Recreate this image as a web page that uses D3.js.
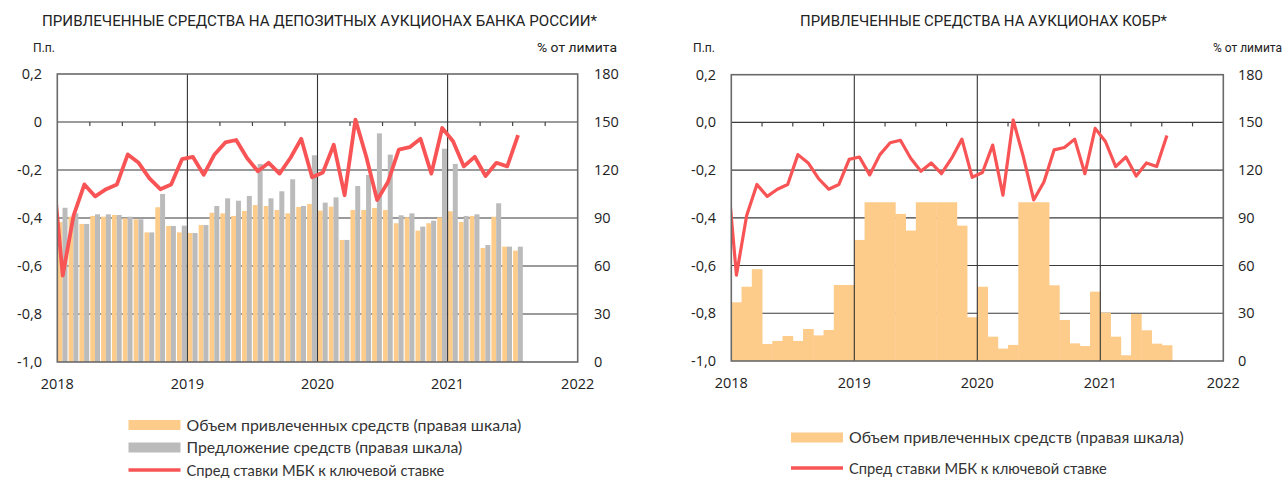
<!DOCTYPE html>
<html><head><meta charset="utf-8">
<script src="https://cdn.jsdelivr.net/npm/d3@7"></script>
<style>
body{margin:0;background:#fff;}
svg{display:block;}
text{fill:#222;}
</style></head>
<body><svg id="chart" width="1288" height="478"></svg>
<script>
// ---------- DATA ----------
const yearLabels = ["2018","2019","2020","2021","2022"];
const leftTicks = [0.2, 0, -0.2, -0.4, -0.6, -0.8, -1.0];
const leftTickLabelsA = ["0,2","0","-0,2","-0,4","-0,6","-0,8","-1,0"];
const leftTickLabelsB = ["0,2","0,0","-0,2","-0,4","-0,6","-0,8","-1,0"];
const rightTicks = [0, 30, 60, 90, 120, 150, 180];
// spread of interbank rate to key rate, p.p., monthly Jan 2018 – Jul 2021 (Dec 2017 first)
const spreadDec2017 = -0.15;
const spread = [-0.64,-0.39,-0.26,-0.31,-0.28,-0.26,-0.135,-0.17,-0.235,-0.28,-0.26,-0.155,
  -0.145,-0.22,-0.135,-0.085,-0.075,-0.15,-0.205,-0.17,-0.215,-0.15,-0.07,-0.23,
  -0.21,-0.095,-0.305,0.01,-0.145,-0.325,-0.25,-0.115,-0.105,-0.07,-0.215,-0.025,
  -0.08,-0.185,-0.145,-0.225,-0.17,-0.185,-0.055];
// deposit auctions, % of limit
const depositVolume = [87.5,90.8,86.3,91.3,90.8,91.9,89.8,89.2,81,96.7,85,81,
  80.6,85.6,93.3,92.9,91.3,94.4,98.1,97.5,95,92.9,96.9,98.8,
  94.6,97.1,76.3,95,95,96.3,95,86.7,90.4,82.1,86.7,90.4,
  94.2,87.5,91.3,71.3,90.8,72.1,69.6];
const depositOffer = [96.4,92.9,86.3,92.3,92.3,91.9,90.8,89.2,81,105,85,85.2,
  80.6,85.6,97.5,102.3,100.8,103.8,123.8,102.3,106.7,114.2,97.5,129.2,
  99.6,102.9,76.3,110,116.9,142.9,129.6,91.7,92.9,84.6,88.3,133.3,
  123.8,91.3,92.3,73.1,99.2,72.1,72.1];
// KOBR auctions, % of limit
const kobrVolume = [36.9,46.7,57.7,10.7,12.6,15.7,12.6,20.1,16.1,19.5,47.8,47.8,
  76.1,99.8,99.8,99.8,92.5,82,99.8,99.8,99.8,99.8,85.1,27.5,
  46.7,15.3,7.8,10.1,99.8,99.8,99.8,47.6,25.8,11.1,9.4,43.6,
  30.4,15.3,3.6,29.6,19.3,10.9,9.9];

const titleLeft = "ПРИВЛЕЧЕННЫЕ СРЕДСТВА НА ДЕПОЗИТНЫХ АУКЦИОНАХ БАНКА РОССИИ*";
const titleRight = "ПРИВЛЕЧЕННЫЕ СРЕДСТВА НА АУКЦИОНАХ КОБР*";
const legVolume = "Объем привлеченных средств (правая шкала)";
const legOffer = "Предложение средств (правая шкала)";
const legSpread = "Спред ставки МБК к ключевой ставке";

// ---------- STYLE ----------
const C_ORANGE = "#FDCB8A", C_GREY = "#BBBBBB", C_RED = "#F85455";
const svg = d3.select("#chart");

function fitText(sel, w){
  const n = sel.node(); const fs = parseFloat(sel.attr("font-size"));
  const cur = n.getComputedTextLength();
  if (cur > 0) sel.attr("font-size", (fs * w / cur).toFixed(2));
  return sel;
}
function squeeze(sel, w){
  return sel.attr("textLength", w).attr("lengthAdjust","spacingAndGlyphs");
}

function panel(o){
  const g = svg.append("g");
  const x = d3.scaleLinear().domain([0,48]).range([o.x0,o.x1]);
  const yL = d3.scaleLinear().domain([-1,0.2]).range([o.y1,o.y0]);
  const yR = d3.scaleLinear().domain([0,180]).range([o.y1,o.y0]);
  const mw = x(1)-x(0);
  const clipId = "clip"+o.id;
  svg.append("clipPath").attr("id",clipId).append("rect")
    .attr("x",o.x0).attr("y",o.y0).attr("width",o.x1-o.x0).attr("height",o.y1-o.y0);

  // horizontal gridlines (behind bars)
  g.append("g").selectAll("line").data(leftTicks.filter(v=>v<0.1 && v>-0.95)).join("line")
    .attr("x1",o.x0).attr("x2",o.x1).attr("y1",d=>yL(d)).attr("y2",d=>yL(d))
    .attr("stroke",o.gridColor).attr("stroke-width",o.gridW);

  // bars
  if (o.paired){
    g.append("g").selectAll("rect").data(o.vol).join("rect")
      .attr("x",(d,i)=>x(i)+mw*0.04).attr("width",mw*0.44)
      .attr("y",d=>yR(d)).attr("height",d=>yR(0)-yR(d)).attr("fill",C_ORANGE);
    g.append("g").selectAll("rect").data(o.offer).join("rect")
      .attr("x",(d,i)=>x(i)+mw*0.48).attr("width",mw*0.46)
      .attr("y",d=>yR(d)).attr("height",d=>yR(0)-yR(d)).attr("fill",C_GREY);
  } else {
    g.append("g").selectAll("rect").data(o.vol).join("rect")
      .attr("x",(d,i)=>x(i)).attr("width",mw+0.4)
      .attr("y",d=>yR(d)).attr("height",d=>yR(0)-yR(d)).attr("fill",C_ORANGE);
  }

  // vertical year lines
  g.append("g").selectAll("line").data([12,24,36]).join("line")
    .attr("x1",d=>x(d)).attr("x2",d=>x(d)).attr("y1",o.y0).attr("y2",o.y1)
    .attr("stroke","#333").attr("stroke-width",1.1);
  // quarter ticks on zero line
  g.append("g").selectAll("line").data(d3.range(3,48,3).filter(m=>m%12)).join("line")
    .attr("x1",d=>x(d)).attr("x2",d=>x(d)).attr("y1",yL(0)).attr("y2",yL(0)+4)
    .attr("stroke","#444").attr("stroke-width",1.2);

  // line
  const pts = [[-0.5, spreadDec2017]].concat(spread.map((v,i)=>[i+0.5,v]));
  g.append("path").datum(pts).attr("clip-path",`url(#${clipId})`)
    .attr("d", d3.line().x(d=>x(d[0])).y(d=>yL(d[1])))
    .attr("fill","none").attr("stroke",C_RED).attr("stroke-width",o.lineW)
    .attr("stroke-linejoin","round");

  // frame
  g.append("rect").attr("x",o.x0).attr("y",o.y0).attr("width",o.x1-o.x0).attr("height",o.y1-o.y0)
    .attr("fill","none").attr("stroke","#6a6a6a").attr("stroke-width",1.6);

  // left axis labels
  const ff = "'Open Sans', sans-serif";
  g.append("g").selectAll("text").data(leftTicks).join("text")
    .attr("x",o.lx).attr("y",d=>yL(d)+5).attr("text-anchor","end")
    .attr("font-family",ff).attr("font-size",14.5).text((d,i)=>o.leftLabels[i]);
  // right axis labels
  g.append("g").selectAll("text").data(rightTicks).join("text")
    .attr("x",o.rx).attr("y",d=>yR(d)+5).attr("text-anchor","start")
    .attr("font-family",ff).attr("font-size",14.5).text(d=>d);
  // x labels
  g.append("g").selectAll("text").data(yearLabels).join("text")
    .attr("x",(d,i)=>x(i*12)).attr("y",o.y1+27).attr("text-anchor","middle")
    .attr("font-family",ff).attr("font-size",14.5).text(d=>d);

  // title & units (condensed look)
  const cf = "Roboto, sans-serif";
  squeeze(g.append("text").attr("x",o.tx).attr("y",25.5).attr("font-family",cf)
    .attr("font-size",14.5).text(o.title), o.tw);
  squeeze(g.append("text").attr("x",o.ppx).attr("y",52).attr("font-family",cf)
    .attr("font-size",13).text("П.п."), 22);
  squeeze(g.append("text").attr("x",o.limx).attr("y",52).attr("font-family",cf)
    .attr("font-size",13).text("% от лимита"), o.limw);

  // legend
  const lf = "Lato, sans-serif";
  o.legend.forEach(L=>{
    if (L.type==="rect"){
      g.append("rect").attr("x",o.lgx).attr("y",L.y-5).attr("width",52).attr("height",10).attr("fill",L.color);
    } else {
      g.append("line").attr("x1",o.lgx).attr("x2",o.lgx+52).attr("y1",L.y).attr("y2",L.y)
        .attr("stroke",C_RED).attr("stroke-width",3.5);
    }
    fitText(g.append("text").attr("x",o.lgx+58).attr("y",L.y+5.5).attr("font-family",lf)
      .attr("font-size",15).style("fill","#333").text(L.text), L.w);
  });
}

panel({id:"L", x0:57.3, x1:577.7, y0:74, y1:362, paired:true,
  vol:depositVolume, offer:depositOffer, gridColor:"#7a7a7a", gridW:1.5, lineW:3.8,
  lx:42, rx:594, leftLabels:leftTickLabelsA,
  title:titleLeft, tx:42, tw:555, ppx:33, limx:537, limw:80,
  lgx:128.5,
  legend:[{type:"rect",color:C_ORANGE,y:425,text:legVolume,w:335},
          {type:"rect",color:C_GREY,y:447.5,text:legOffer,w:276},
          {type:"line",y:470,text:legSpread,w:258}]});

panel({id:"R", x0:731.3, x1:1223.3, y0:74.7, y1:361, paired:false,
  vol:kobrVolume, gridColor:"#3a3a3a", gridW:1.1, lineW:3.2,
  lx:716, rx:1238, leftLabels:leftTickLabelsB,
  title:titleRight, tx:800, tw:367, ppx:693, limx:1213, limw:69,
  lgx:791,
  legend:[{type:"rect",color:C_ORANGE,y:437.5,text:legVolume,w:335},
          {type:"line",y:468,text:legSpread,w:258}]});
</script></body></html>
